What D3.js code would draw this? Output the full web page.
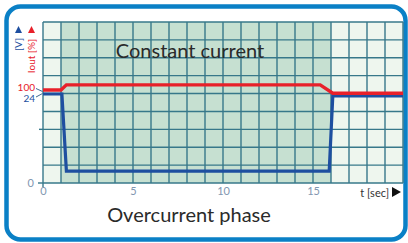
<!DOCTYPE html>
<html>
<head>
<meta charset="utf-8">
<script src="https://cdn.jsdelivr.net/npm/d3@7"></script>
<style>
	body { margin: 0; background: #fff; }
	svg text { font-family: Lato, 'Open Sans', sans-serif; }
</style>
</head>
<body>
<svg id="chart" width="408" height="243"></svg>
<script>
'use strict';

// time axis (seconds)
var xTicks = [0, 5, 10, 15];

// output voltage [V]
var voltTime = [0, 1.05, 1.3, 15.9, 16.1, 20];
var voltValues = [24, 24, 3.2, 3.2, 23.5, 23.5];

// output current [%]
var currTime = [0, 1.0, 1.3, 15.4, 16.1, 20];
var currValues = [100, 100, 105.5, 105.5, 96.5, 96.5];

// shaded phases (seconds)
var phaseStart = [0, 1, 16];
var phaseEnd = [1, 16, 20];
var phaseFill = ['#eef6ee', '#c6e0d1', '#eef6ee'];

var svg = d3.select('#chart');

var margins = { left: 43, right: 5, top: 22, bottom: 60 };
var graphWidth = 408 - margins.left - margins.right;
var graphHeight = 243 - margins.top - margins.bottom;

var x = d3.scaleLinear().domain([0, 20]).range([margins.left, margins.left + graphWidth]);
var yGrid = d3.scaleLinear().domain([0, 9]).range([margins.top + graphHeight, margins.top]);
var yV = d3.scaleLinear().domain([0, 24]).range([yGrid(0), 94]);
var yI = d3.scaleLinear().domain([0, 100]).range([yGrid(0), 90]);

// frame
svg.append('rect')
	.attr('x', 6.5).attr('y', 6.5)
	.attr('width', 399).attr('height', 233)
	.attr('rx', 14).attr('ry', 14)
	.attr('fill', '#fff')
	.attr('stroke', '#0a80c6')
	.attr('stroke-width', 4.5);

// phase backgrounds
svg.selectAll('rect.phase').data(phaseStart).enter().append('rect')
	.attr('class', 'phase')
	.attr('x', function (d) { return x(d); })
	.attr('y', yGrid(9))
	.attr('width', function (d, i) { return x(phaseEnd[i]) - x(d); })
	.attr('height', yGrid(0) - yGrid(9))
	.attr('fill', function (d, i) { return phaseFill[i]; });

// grid
var gridG = svg.append('g').attr('stroke', '#37788a').attr('stroke-width', 1.4);
gridG.selectAll('line.v').data(d3.range(0, 21)).enter().append('line')
	.attr('x1', function (d) { return x(d); }).attr('x2', function (d) { return x(d); })
	.attr('y1', yGrid(9)).attr('y2', yGrid(0));
gridG.selectAll('line.h').data(d3.range(0, 10)).enter().append('line')
	.attr('x1', x(0)).attr('x2', x(20))
	.attr('y1', function (d) { return yGrid(d); }).attr('y2', function (d) { return yGrid(d); });

// small ticks outside the grid
gridG.append('line').attr('x1', x(0) - 5).attr('x2', x(0)).attr('y1', yGrid(0)).attr('y2', yGrid(0));
gridG.append('line').attr('x1', x(0) - 4).attr('x2', x(0)).attr('y1', yGrid(3)).attr('y2', yGrid(3));
gridG.append('line').attr('x1', x(0)).attr('x2', x(0)).attr('y1', yGrid(0)).attr('y2', yGrid(0) + 4);

// x axis labels
var xAxis = d3.axisBottom(x).tickValues(xTicks).tickSize(0).tickPadding(4);
var xAxisG = svg.append('g').attr('transform', 'translate(0,' + yGrid(0) + ')').call(xAxis);
xAxisG.select('.domain').remove();
xAxisG.selectAll('text').attr('fill', '#8196b0').attr('font-size', 11)
	.style('font-family', 'Lato, sans-serif');

svg.append('text').attr('x', 389).attr('y', 197).attr('text-anchor', 'end')
	.attr('font-size', 11).attr('fill', '#333').text('t [sec]');
svg.append('path').attr('d', 'M392,187 L401,192 L392,197 Z').attr('fill', '#111');

// y labels
svg.append('text').attr('x', 34).attr('y', yGrid(0) + 1).attr('text-anchor', 'end')
	.attr('dominant-baseline', 'middle').attr('font-size', 11).attr('fill', '#8196b0').text('0');
svg.append('text').attr('x', 35).attr('y', 91).attr('text-anchor', 'end')
	.attr('font-size', 10).attr('fill', '#e8202a').text('100');
svg.append('text').attr('x', 35).attr('y', 101.5).attr('text-anchor', 'end')
	.attr('font-size', 10).attr('fill', '#1e4fa0').text('24');
svg.append('path').attr('d', 'M36,88.5 L42.5,91.5 M36,97 L42.5,93.5')
	.attr('fill', 'none').attr('stroke', '#3f6a90').attr('stroke-width', 1);

// y axis titles with triangles
svg.append('path').attr('d', 'M15,33 L18.5,26 L22,33 Z').attr('fill', '#1e4fa0');
svg.append('path').attr('d', 'M28,33 L31.5,26 L35,33 Z').attr('fill', '#e8202a');
svg.append('text').attr('transform', 'translate(22,38) rotate(-90)').attr('text-anchor', 'end')
	.attr('font-size', 10).attr('fill', '#1e4fa0').text('[V]');
svg.append('text').attr('transform', 'translate(35,39) rotate(-90)').attr('text-anchor', 'end')
	.attr('font-size', 10).attr('fill', '#e8202a').text('Iout [%]');

// series
var lineV = d3.line().x(function (d) { return x(d[0]); }).y(function (d) { return yV(d[1]); });
var lineI = d3.line().x(function (d) { return x(d[0]); }).y(function (d) { return yI(d[1]); });

svg.append('path').datum(d3.zip(voltTime, voltValues)).attr('d', lineV)
	.attr('fill', 'none').attr('stroke', '#1e4fa0').attr('stroke-width', 3.2).attr('stroke-linejoin', 'miter');
svg.append('path').datum(d3.zip(currTime, currValues)).attr('d', lineI)
	.attr('fill', 'none').attr('stroke', '#e8202a').attr('stroke-width', 3.4).attr('stroke-linejoin', 'miter');

// phase titles
svg.append('text').attr('x', 190).attr('y', 58).attr('text-anchor', 'middle')
	.attr('font-size', 20).attr('fill', '#2a2a2a').text('Constant current');
svg.append('text').attr('x', 189).attr('y', 222).attr('text-anchor', 'middle')
	.attr('font-size', 20).attr('fill', '#2a2a2a').text('Overcurrent phase');
</script>
</body>
</html>
